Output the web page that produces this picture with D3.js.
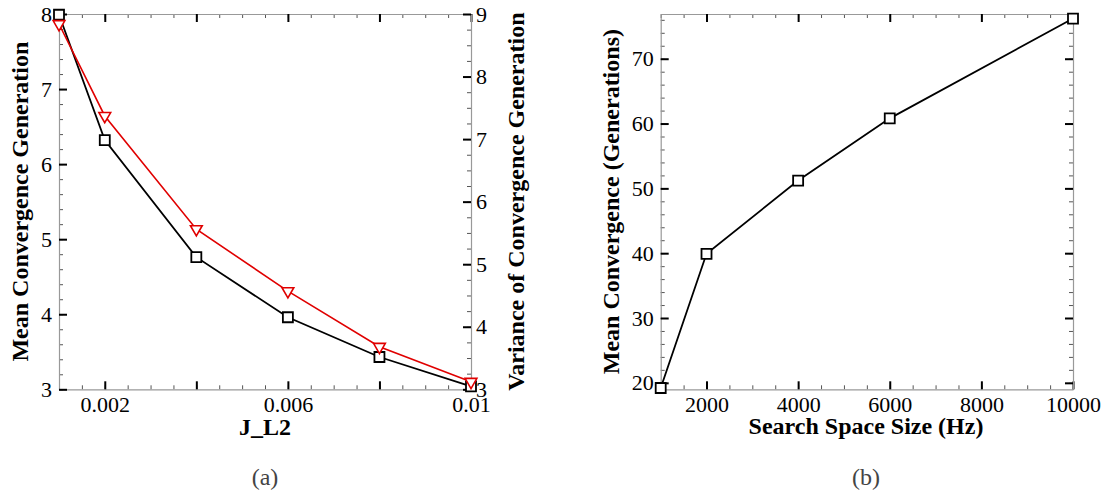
<!DOCTYPE html>
<html>
<head>
<meta charset="utf-8">
<script src="https://cdn.jsdelivr.net/npm/d3@7"></script>
<style>
  body { margin: 0; background: #fff; }
  svg { display: block; }
</style>
</head>
<body>
<div id="chart-area"></div>
<script>
// panel (a)
const jL2 = [0.001, 0.002, 0.004, 0.006, 0.008, 0.01];
const meanGen = [7.99, 6.32, 4.76, 3.96, 3.43, 3.04];
const varGen = [8.84, 7.37, 5.56, 4.57, 3.68, 3.12];
const jTicks = [0.002, 0.004, 0.006, 0.008, 0.01];
const jLabels = ['0.002', '', '0.006', '', '0.01'];

// panel (b)
const spaceSize = [1000, 2000, 4000, 6000, 10000];
const meanConv = [19.2, 39.9, 51.2, 60.8, 76.2];
const sTicks = [2000, 4000, 6000, 8000, 10000];
const convTicks = [20, 30, 40, 50, 60, 70];

const FONT = "'Liberation Serif', 'Times New Roman', serif";

const svg = d3.select('#chart-area')
  .append('svg')
  .attr('width', 1113)
  .attr('height', 494);

const plotTop = 14, plotBottom = 389.3;

// major + minor ticks, ticks pointing into the plot
const drawAxis = (g, axisFn, scale, major, minor, fmt, pad) => {
  g.append('g')
    .call(axisFn(scale).tickValues(minor).tickFormat('').tickSizeInner(-4).tickSizeOuter(0))
    .call(a => a.select('.domain').remove())
    .call(a => a.selectAll('line').attr('stroke', '#555').attr('stroke-width', 1));
  g.append('g')
    .call(axisFn(scale).tickValues(major).tickFormat(fmt).tickSizeInner(-8).tickSizeOuter(0).tickPadding(pad))
    .call(a => a.select('.domain').attr('stroke', '#999').attr('stroke-width', 1.2))
    .call(a => a.selectAll('line').attr('stroke', '#000').attr('stroke-width', 2))
    .call(a => a.selectAll('text')
      .style('font-family', FONT).style('font-size', '22px').attr('fill', '#000'));
};

const range = (a, b, s) => {
  const out = [];
  for (let i = 0; a + i * s <= b + s / 1000; i++) out.push(+(a + i * s).toFixed(6));
  return out;
};

const title = (g, text) => g.append('text')
  .style('font-family', FONT).style('font-size', '24px').style('font-weight', 'bold')
  .attr('fill', '#000').attr('text-anchor', 'middle').text(text);

const caption = (g, text, x) => g.append('text')
  .style('font-family', FONT).style('font-size', '24px')
  .attr('fill', '#444').attr('text-anchor', 'middle')
  .attr('x', x).attr('y', 485).text(text);

// ---------- (a) ----------
const xA = d3.scaleLinear().domain([0.001, 0.01]).range([59, 471]);
const yA = d3.scaleLinear().domain([3, 8]).range([plotBottom, plotTop]);
const yA2 = d3.scaleLinear().domain([3, 9]).range([plotBottom, plotTop]);

const ga = svg.append('g');
const jMinor = range(0.001, 0.01, 0.0005);

ga.append('g').attr('transform', 'translate(0,' + plotBottom + ')').call(g => {
  drawAxis(g, d3.axisBottom, xA, jTicks, jMinor, (d, i) => jLabels[i], 7);
});
ga.append('g').attr('transform', 'translate(0,' + plotTop + ')').call(g => {
  drawAxis(g, d3.axisTop, xA, jTicks, jMinor, '', 0);
});
ga.append('g').attr('transform', 'translate(59,0)').call(g => {
  drawAxis(g, d3.axisLeft, yA, d3.range(3, 9), range(3, 8, 0.2), d3.format('d'), 7);
});
ga.append('g').attr('transform', 'translate(471,0)').call(g => {
  drawAxis(g, d3.axisRight, yA2, d3.range(3, 10), range(3, 9, 0.25), d3.format('d'), 5);
});

const lineA = d3.line().x((d, i) => xA(jL2[i])).y(d => yA(d));
const lineA2 = d3.line().x((d, i) => xA(jL2[i])).y(d => yA2(d));

ga.append('path').datum(meanGen)
  .attr('d', lineA).attr('fill', 'none').attr('stroke', '#000').attr('stroke-width', 1.8);
ga.selectAll('.sqA').data(meanGen).enter().append('path')
  .attr('class', 'sqA')
  .attr('d', d3.symbol(d3.symbolSquare, 100))
  .attr('transform', (d, i) => 'translate(' + xA(jL2[i]) + ',' + yA(d) + ')')
  .attr('fill', '#fff').attr('stroke', '#000').attr('stroke-width', 1.8);

ga.append('path').datum(varGen)
  .attr('d', lineA2).attr('fill', 'none').attr('stroke', '#e00000').attr('stroke-width', 1.6);
ga.selectAll('.triA').data(varGen).enter().append('path')
  .attr('class', 'triA')
  .attr('d', d3.symbol(d3.symbolTriangle, 60))
  .attr('transform', (d, i) => 'translate(' + xA(jL2[i]) + ',' + yA2(d) + ') rotate(180)')
  .attr('fill', '#fff').attr('stroke', '#e00000').attr('stroke-width', 1.6);

title(ga, 'Mean Convergence Generation')
  .attr('transform', 'translate(28,' + (plotTop + plotBottom) / 2 + ') rotate(-90)');
title(ga, 'Variance of Convergence Generation')
  .attr('transform', 'translate(524,' + (plotTop + plotBottom) / 2 + ') rotate(-90)');
title(ga, 'J_L2').attr('x', 265).attr('y', 435);
caption(ga, '(a)', 265);

// ---------- (b) ----------
const xB = d3.scaleLinear().domain([1000, 10000]).range([660.7, 1073]);
const yB = d3.scaleLinear().domain([19, 76.9]).range([plotBottom, plotTop]);

const gb = svg.append('g');
const sMinor = range(1000, 10000, 500);
const cMinor = range(20, 76, 2);

gb.append('g').attr('transform', 'translate(0,' + plotBottom + ')').call(g => {
  drawAxis(g, d3.axisBottom, xB, sTicks, sMinor, d3.format('d'), 7);
});
gb.append('g').attr('transform', 'translate(0,' + plotTop + ')').call(g => {
  drawAxis(g, d3.axisTop, xB, sTicks, sMinor, '', 0);
});
gb.append('g').attr('transform', 'translate(660.7,0)').call(g => {
  drawAxis(g, d3.axisLeft, yB, convTicks, cMinor, d3.format('d'), 7);
});
gb.append('g').attr('transform', 'translate(1073,0)').call(g => {
  drawAxis(g, d3.axisRight, yB, convTicks, cMinor, '', 0);
});

const lineB = d3.line().x((d, i) => xB(spaceSize[i])).y(d => yB(d));
gb.append('path').datum(meanConv)
  .attr('d', lineB).attr('fill', 'none').attr('stroke', '#000').attr('stroke-width', 1.8);
gb.selectAll('.sqB').data(meanConv).enter().append('path')
  .attr('class', 'sqB')
  .attr('d', d3.symbol(d3.symbolSquare, 100))
  .attr('transform', (d, i) => 'translate(' + xB(spaceSize[i]) + ',' + yB(d) + ')')
  .attr('fill', '#fff').attr('stroke', '#000').attr('stroke-width', 1.8);

title(gb, 'Mean Convergence (Generations)')
  .attr('transform', 'translate(619,' + (plotTop + plotBottom) / 2 + ') rotate(-90)');
title(gb, 'Search Space Size (Hz)').attr('x', 866).attr('y', 434);
caption(gb, '(b)', 866);
</script>
</body>
</html>
